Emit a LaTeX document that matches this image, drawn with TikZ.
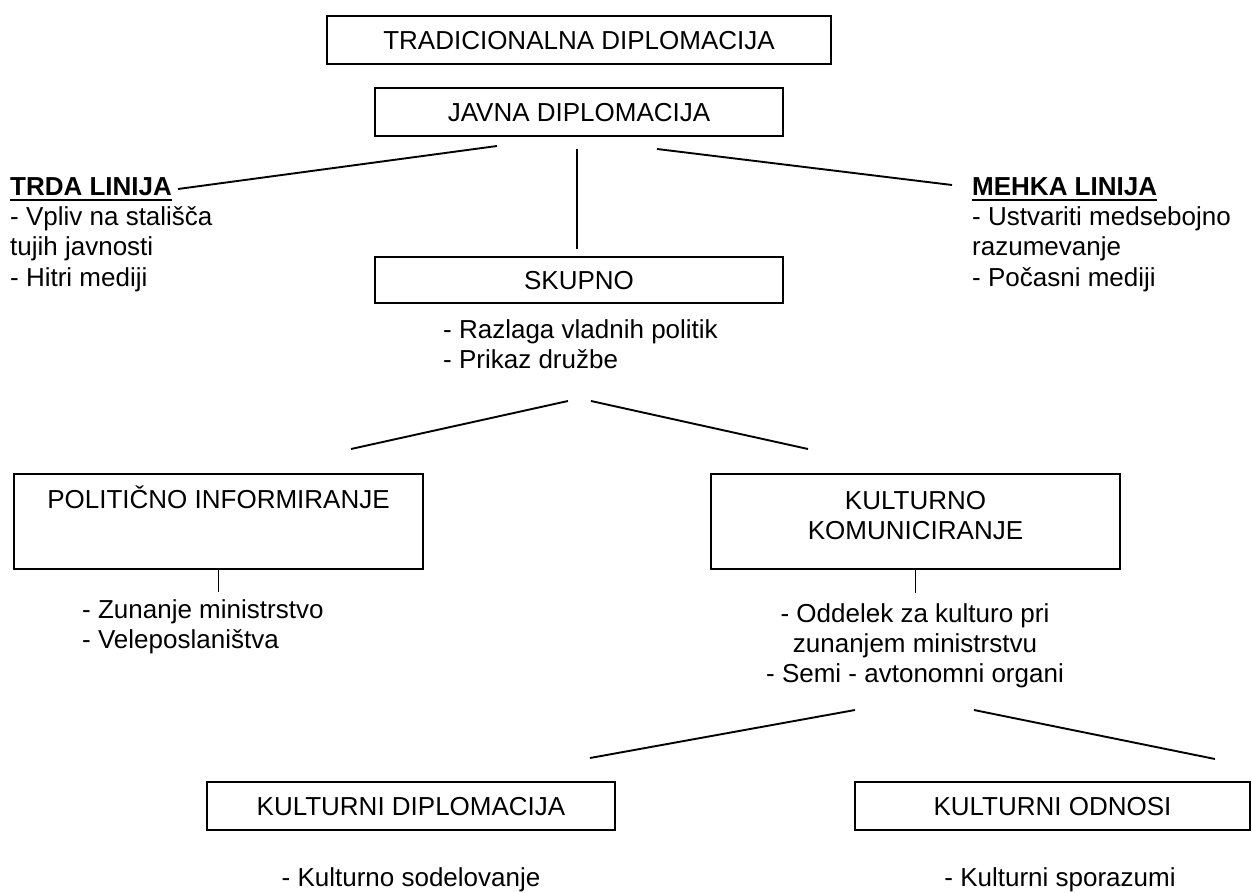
\documentclass[tikz,border=0pt]{standalone}
\usepackage{fontspec}
\setmainfont{Liberation Sans}
\usepackage{tikz}
\usetikzlibrary{positioning}
\newcommand{\bigfont}{\fontsize{26}{30}\selectfont}
\newcommand{\titleul}[1]{\setbox0\hbox{#1}\rlap{\rule[-5pt]{\wd0}{2pt}}\box0}
\tikzset{
  box/.style={rectangle, draw=black, line width=2pt, inner sep=0pt,
              minimum width=408pt, minimum height=48pt,
              text height=18.6pt, text depth=0pt, font=\bigfont},
  tallbox/.style={box, minimum width=409pt, minimum height=0pt,
                  text height=34pt, text depth=61pt, align=center},
  note/.style={inner sep=0pt, font=\bigfont, align=left},
  link/.style={line width=1.9pt, draw=black},
}

\begin{document}
\begin{tikzpicture}[x=1pt, y=-1pt]
  \useasboundingbox (0,0) rectangle (1252,893);

  % boxes
  \node[box, minimum width=504pt] (trad) at (579,40) {TRADICIONALNA DIPLOMACIJA};
  \node[box] (javna) at (579,112) {JAVNA DIPLOMACIJA};
  \node[box, minimum height=46pt] (skupno) at (579,280) {SKUPNO};
  \node[tallbox, anchor=north] (polit) at (218.5,473) {POLITIČNO INFORMIRANJE};
  \node[tallbox, anchor=north, text height=65pt, text depth=30pt] (kult) at (915.5,473)
    {KULTURNO\\KOMUNICIRANJE};
  \node[box] (kdipl) at (411,806) {KULTURNI DIPLOMACIJA};
  \node[box, minimum width=395pt] (kodn) at (1052.5,806) {KULTURNI ODNOSI};

  % texts (anchored on the last line)
  \node[note, anchor=base west] (trda) at (10,286)
    {\titleul{\textbf{TRDA LINIJA}}\\- Vpliv na stališča\\tujih javnosti\\- Hitri mediji};
  \node[note, anchor=base west] (mehka) at (972,286)
    {\titleul{\textbf{MEHKA LINIJA}}\\- Ustvariti medsebojno\\razumevanje\\- Počasni mediji};
  \node[note, anchor=base west] (skupnotxt) at (443,368)
    {- Razlaga vladnih politik\\- Prikaz družbe};
  \node[note, anchor=base west] (polittxt) at (82,648)
    {- Zunanje ministrstvo\\- Veleposlaništva};
  \node[note, align=center, anchor=base] (kulttxt) at (915,682)
    {- Oddelek za kulturo pri\\zunanjem ministrstvu\\- Semi - avtonomni organi};
  \node[note, anchor=base] (kdipltxt) at (411,886) {- Kulturno sodelovanje};
  \node[note, anchor=base] (kodntxt) at (1060,886) {- Kulturni sporazumi};

  % free line ends
  \coordinate (trdaend) at (178,189);
  \coordinate (javnaL) at (497,146);
  \coordinate (javnaM) at (577,149);
  \coordinate (skupnotop) at (577,249);
  \coordinate (javnaR) at (657,149);
  \coordinate (mehkaend) at (952,185);
  \coordinate (skupnoL) at (568,401);
  \coordinate (skupnoR) at (591,401);
  \coordinate (polittop) at (351,449);
  \coordinate (kulttop) at (808,449);
  \coordinate (polittick) at (218.5,592);
  \coordinate (kulttick) at (915.5,593);
  \coordinate (kultL) at (855,710);
  \coordinate (kultR) at (974,710);
  \coordinate (kdipltop) at (590,758);
  \coordinate (kodntop) at (1215,759);

  \draw[link] (trdaend) -- (javnaL);
  \draw[link] (javnaM) -- (skupnotop);
  \draw[link] (javnaR) -- (mehkaend);
  \draw[link] (skupnoL) -- (polittop);
  \draw[link] (skupnoR) -- (kulttop);
  \draw[link] (polit.south) -- (polittick);
  \draw[link] (kult.south) -- (kulttick);
  \draw[link] (kultL) -- (kdipltop);
  \draw[link] (kultR) -- (kodntop);
\end{tikzpicture}
\end{document}
